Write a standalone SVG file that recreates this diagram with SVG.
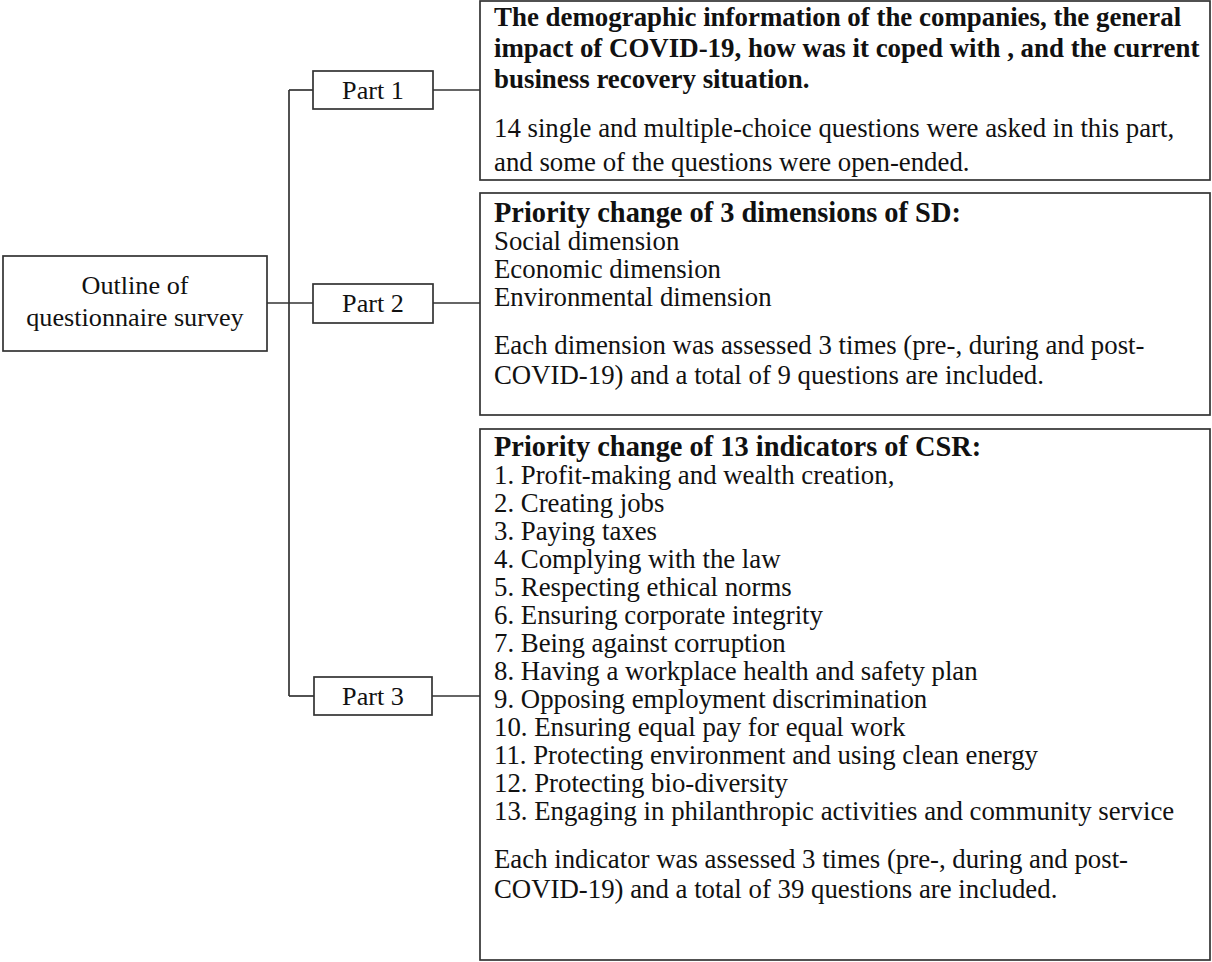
<svg xmlns="http://www.w3.org/2000/svg" width="1212" height="962" viewBox="0 0 1212 962">
<style>
.box{fill:#fff;stroke:#333;stroke-width:1.7}
.ln{fill:none;stroke:#333;stroke-width:1.7}
.t{font-family:"Liberation Serif","Times New Roman",serif;font-size:26.8px;fill:#111}
.lbl{font-size:26.2px}
.c{text-anchor:middle}
.b{font-weight:bold;font-size:26.9px}
.h{font-weight:bold;font-size:28.4px}
</style>
<rect width="1212" height="962" fill="#fff"/>
<g id="connectors">
<line class="ln" x1="267" y1="303" x2="313" y2="303"/>
<line class="ln" x1="289" y1="90" x2="289" y2="696"/>
<line class="ln" x1="289" y1="90" x2="313" y2="90"/>
<line class="ln" x1="289" y1="696" x2="314" y2="696"/>
<line class="ln" x1="433" y1="90" x2="480" y2="90"/>
<line class="ln" x1="433" y1="303" x2="480" y2="303"/>
<line class="ln" x1="432" y1="696" x2="480" y2="696"/>
</g>
<g id="outline">
<rect class="box" x="3" y="256" width="264" height="95"/>
<text class="t lbl c" x="135" y="294">Outline of</text>
<text class="t lbl c" x="135" y="326">questionnaire survey</text>
</g>
<g id="part1">
<rect class="box" x="313" y="71" width="120" height="38"/>
<text class="t lbl c" x="373" y="99">Part 1</text>
</g>
<g id="part2">
<rect class="box" x="313" y="284" width="120" height="39"/>
<text class="t lbl c" x="373" y="312">Part 2</text>
</g>
<g id="part3">
<rect class="box" x="314" y="677" width="118" height="38"/>
<text class="t lbl c" x="373" y="705">Part 3</text>
</g>
<g id="detail1">
<rect class="box" x="480" y="1" width="730" height="179"/>
<text class="t b" x="494" y="26">The demographic information of the companies, the general</text>
<text class="t b" x="494" y="57">impact of COVID-19, how was it coped with , and the current</text>
<text class="t b" x="494" y="88">business recovery situation.</text>
<text class="t" x="494" y="137">14 single and multiple-choice questions were asked in this part,</text>
<text class="t" x="494" y="171">and some of the questions were open-ended.</text>
</g>
<g id="detail2">
<rect class="box" x="480" y="193" width="730" height="222"/>
<text class="t h" x="494" y="222">Priority change of 3 dimensions of SD:</text>
<text class="t" x="494" y="250">Social dimension</text>
<text class="t" x="494" y="278">Economic dimension</text>
<text class="t" x="494" y="306">Environmental dimension</text>
<text class="t" x="494" y="354">Each dimension was assessed 3 times (pre-, during and post-</text>
<text class="t" x="494" y="384">COVID-19) and a total of 9 questions are included.</text>
</g>
<g id="detail3">
<rect class="box" x="480" y="429" width="730" height="531"/>
<text class="t h" x="494" y="456">Priority change of 13 indicators of CSR:</text>
<text class="t" x="494" y="484">1. Profit-making and wealth creation,</text>
<text class="t" x="494" y="512">2. Creating jobs</text>
<text class="t" x="494" y="540">3. Paying taxes</text>
<text class="t" x="494" y="568">4. Complying with the law</text>
<text class="t" x="494" y="596">5. Respecting ethical norms</text>
<text class="t" x="494" y="624">6. Ensuring corporate integrity</text>
<text class="t" x="494" y="652">7. Being against corruption</text>
<text class="t" x="494" y="680">8. Having a workplace health and safety plan</text>
<text class="t" x="494" y="708">9. Opposing employment discrimination</text>
<text class="t" x="494" y="736">10. Ensuring equal pay for equal work</text>
<text class="t" x="494" y="764">11. Protecting environment and using clean energy</text>
<text class="t" x="494" y="792">12. Protecting bio-diversity</text>
<text class="t" x="494" y="820">13. Engaging in philanthropic activities and community service</text>
<text class="t" x="494" y="868">Each indicator was assessed 3 times (pre-, during and post-</text>
<text class="t" x="494" y="898">COVID-19) and a total of 39 questions are included.</text>
</g>
</svg>
